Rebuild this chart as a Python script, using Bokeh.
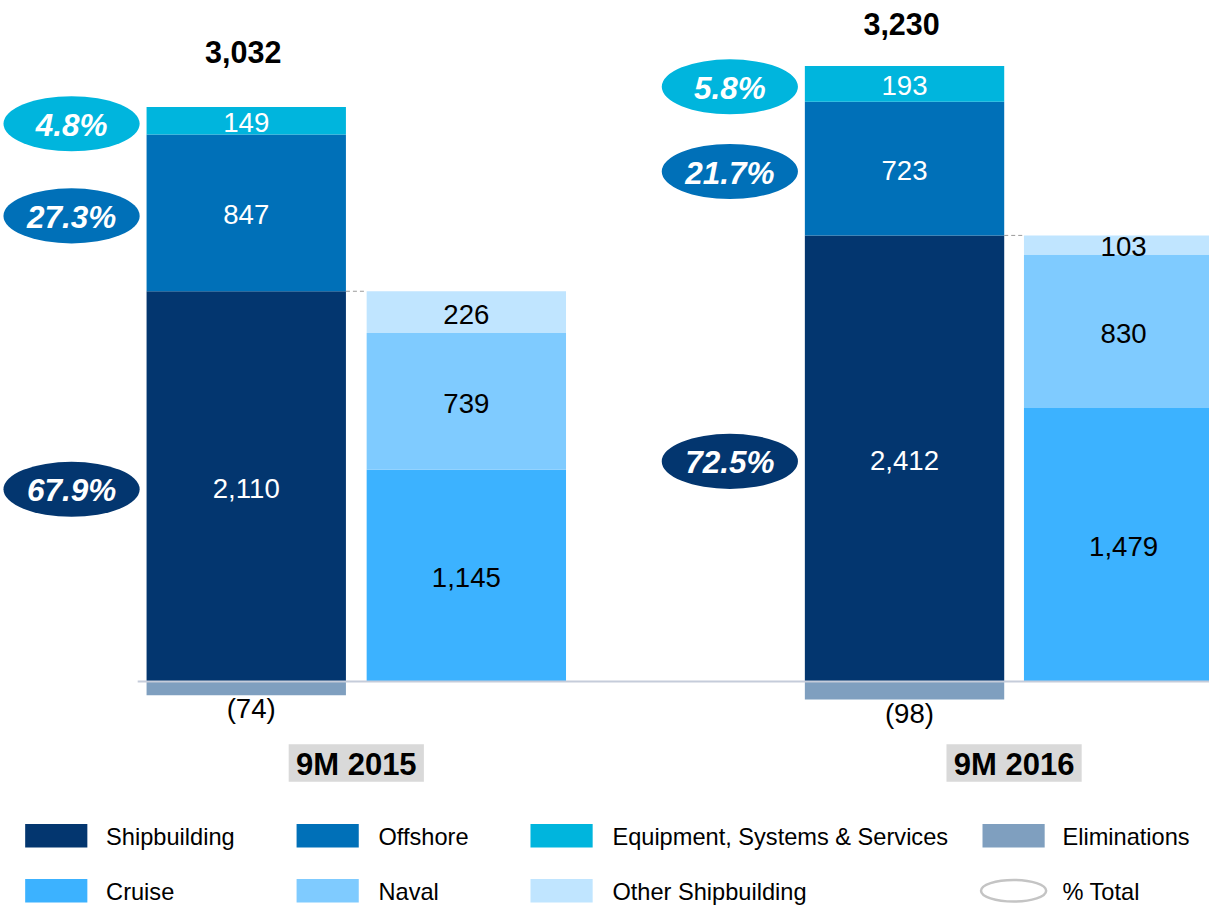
from bokeh.plotting import figure
from bokeh.models import Range1d, ColumnDataSource
from bokeh.core.properties import value
from bokeh.embed import file_html
from bokeh.resources import INLINE

# ---------------- data ----------------
periods = ["9M 2015", "9M 2016"]
shipbuilding = [2110, 2412]
offshore = [847, 723]
equipment = [149, 193]
eliminations = [-74, -98]
cruise = [1145, 1479]
naval = [739, 830]
other_shipbuilding = [226, 103]
totals = [3032, 3230]
pct_shipbuilding = [67.9, 72.5]
pct_offshore = [27.3, 21.7]
pct_equipment = [4.8, 5.8]

legend_row1 = ["Shipbuilding", "Offshore", "Equipment, Systems & Services", "Eliminations"]
legend_row2 = ["Cruise", "Naval", "Other Shipbuilding", "% Total"]

# ---------------- style / layout ----------------
C_SHIP = "#03366F"
C_OFF = "#0070B8"
C_EQUIP = "#00B5DD"
C_ELIM = "#7F9FBF"
C_CRUISE = "#3CB2FF"
C_NAVAL = "#7FCBFF"
C_OTHER = "#C0E5FF"
FONT = value("Liberation Sans")

W, H = 1209, 905              # figure size (fits 1225x921 window with 8px margin)
REF_W, REF_H = 1225, 921      # design canvas
SX, SY = W / REF_W, H / REF_H
S = (SX + SY) / 2
K = 0.1882                    # design px per unit
ZERO_IMG = 693                # design y of the zero line


def vy(img_y):
    return (ZERO_IMG - img_y) / K


def fs(px):
    return f"{px * S:.1f}px"


MAIN_X = [249, 916]
SUB_X = [472, 1138]
BAR_W = 202
BADGE_DX = 177
TOTAL_DY = [-56, -43]

p = figure(width=W, height=H, output_backend="svg", toolbar_location=None,
           x_range=Range1d(0, REF_W),
           y_range=Range1d(vy(REF_H), vy(0)),
           min_border=0, outline_line_color=None)
p.axis.visible = False
p.grid.visible = False
p.background_fill_color = "white"
p.border_fill_color = "white"

# ---------------- bars ----------------
main_src = ColumnDataSource(dict(x=MAIN_X, ship=shipbuilding, off=offshore, equip=equipment))
p.vbar_stack(["ship", "off", "equip"], x="x", width=BAR_W, source=main_src,
             fill_color=[C_SHIP, C_OFF, C_EQUIP], line_color=None)
p.vbar(x=MAIN_X, top=[0, 0], bottom=eliminations, width=BAR_W, fill_color=C_ELIM, line_color=None)

sub_src = ColumnDataSource(dict(x=SUB_X, cruise=cruise, naval=naval, other=other_shipbuilding))
p.vbar_stack(["cruise", "naval", "other"], x="x", width=BAR_W, source=sub_src,
             fill_color=[C_CRUISE, C_NAVAL, C_OTHER], line_color=None)

# zero line
p.segment(x0=[MAIN_X[0] - BAR_W / 2 - 9], x1=[REF_W], y0=[0], y1=[0],
          line_color="#C5CCDA", line_width=2)

# dashed connectors
p.segment(x0=[m + BAR_W / 2 for m in MAIN_X], x1=[s - BAR_W / 2 for s in SUB_X],
          y0=shipbuilding, y1=shipbuilding, line_color="#9A9A9A", line_width=1, line_dash="4 3")

# ---------------- value labels ----------------
def fmt(v):
    return f"{v:,}"

main_lx, main_ly, main_lt = [], [], []
for i in range(2):
    s, o, e = shipbuilding[i], offshore[i], equipment[i]
    for y, v in [(s / 2, s), (s + o / 2, o), (s + o + e / 2, e)]:
        main_lx.append(MAIN_X[i]); main_ly.append(y); main_lt.append(fmt(v))
p.text(x=main_lx, y=main_ly, text=main_lt, text_align="center", text_baseline="middle",
       text_font=FONT, text_font_size=fs(28), text_color="white", y_offset=2 * SY)

sub_lx, sub_ly, sub_lt = [], [], []
for i in range(2):
    c, n, o = cruise[i], naval[i], other_shipbuilding[i]
    for y, v in [(c / 2, c), (c + n / 2, n), (c + n + o / 2, o)]:
        sub_lx.append(SUB_X[i]); sub_ly.append(y); sub_lt.append(fmt(v))
p.text(x=sub_lx, y=sub_ly, text=sub_lt, text_align="center", text_baseline="middle",
       text_font=FONT, text_font_size=fs(28), text_color="black", y_offset=2 * SY)

# eliminations labels
p.text(x=MAIN_X, y=eliminations, text=[f"({abs(v)})" for v in eliminations],
       text_align="center", text_baseline="middle", x_offset=5 * SX, y_offset=14 * SY,
       text_font=FONT, text_font_size=fs(28), text_color="black")

# totals
for i in range(2):
    top = shipbuilding[i] + offshore[i] + equipment[i]
    p.text(x=[MAIN_X[i] - 3], y=[top], text=[fmt(totals[i])], text_align="center",
           text_baseline="middle", y_offset=TOTAL_DY[i] * SY, text_font=FONT,
           text_font_size=fs(31), text_font_style="bold", text_color="black")

# ---------------- percentage badges ----------------
bx, by, bt, bc = [], [], [], []
for i in range(2):
    s, o, e = shipbuilding[i], offshore[i], equipment[i]
    for y, pc, col in [(s / 2, pct_shipbuilding[i], C_SHIP),
                       (s + o / 2, pct_offshore[i], C_OFF),
                       (s + o + e / 2, pct_equipment[i], C_EQUIP)]:
        bx.append(MAIN_X[i] - BADGE_DX); by.append(y - 3 / K); bt.append(f"{pc:.1f}%"); bc.append(col)
p.ellipse(x=bx, y=by, width=138 * SX, height=56 * SY, width_units="screen", height_units="screen",
          fill_color=bc, line_color=None)
p.text(x=bx, y=by, text=bt, text_align="center", text_baseline="middle", y_offset=1,
       text_font=FONT, text_font_size=fs(32), text_font_style="bold italic", text_color="white")

# ---------------- category labels ----------------
cat_x = [(m + s) / 2 for m, s in zip(MAIN_X, SUB_X)]
cat_y = [vy(776)] * 2
p.rect(x=cat_x, y=cat_y, width=137 * SX, height=38 * SY, width_units="screen", height_units="screen",
       fill_color="#D9D9D9", line_color=None)
p.text(x=cat_x, y=cat_y, text=periods, text_align="center", text_baseline="middle", y_offset=1,
       text_font=FONT, text_font_size=fs(31.5), text_font_style="bold", text_color="black")

# ---------------- legend ----------------
LEG_SW_X = [56.5, 331.5, 568.5, 1026.5]
LEG_TX_X = [107, 383, 620, 1076]
ROW_Y = [vy(850), vy(906)]
row1_cols = [C_SHIP, C_OFF, C_EQUIP, C_ELIM]
row2_cols = [C_CRUISE, C_NAVAL, C_OTHER]

p.rect(x=LEG_SW_X, y=[ROW_Y[0]] * 4, width=63 * SX, height=24 * SY, width_units="screen",
       height_units="screen", fill_color=row1_cols, line_color=None)
p.rect(x=LEG_SW_X[:3], y=[ROW_Y[1]] * 3, width=63 * SX, height=24 * SY, width_units="screen",
       height_units="screen", fill_color=row2_cols, line_color=None)
p.ellipse(x=[LEG_SW_X[3]], y=[ROW_Y[1]], width=66 * SX, height=22 * SY, width_units="screen",
          height_units="screen", fill_color="white", line_color="#C4C4C4", line_width=2.5)
p.text(x=LEG_TX_X, y=[ROW_Y[0]] * 4, text=legend_row1, text_align="left", text_baseline="middle",
       text_font=FONT, text_font_size=fs(24), text_color="black", y_offset=1)
p.text(x=LEG_TX_X, y=[ROW_Y[1]] * 4, text=legend_row2, text_align="left", text_baseline="middle",
       text_font=FONT, text_font_size=fs(24), text_color="black", y_offset=1)

open("out.html", "w").write(file_html(p, INLINE))
